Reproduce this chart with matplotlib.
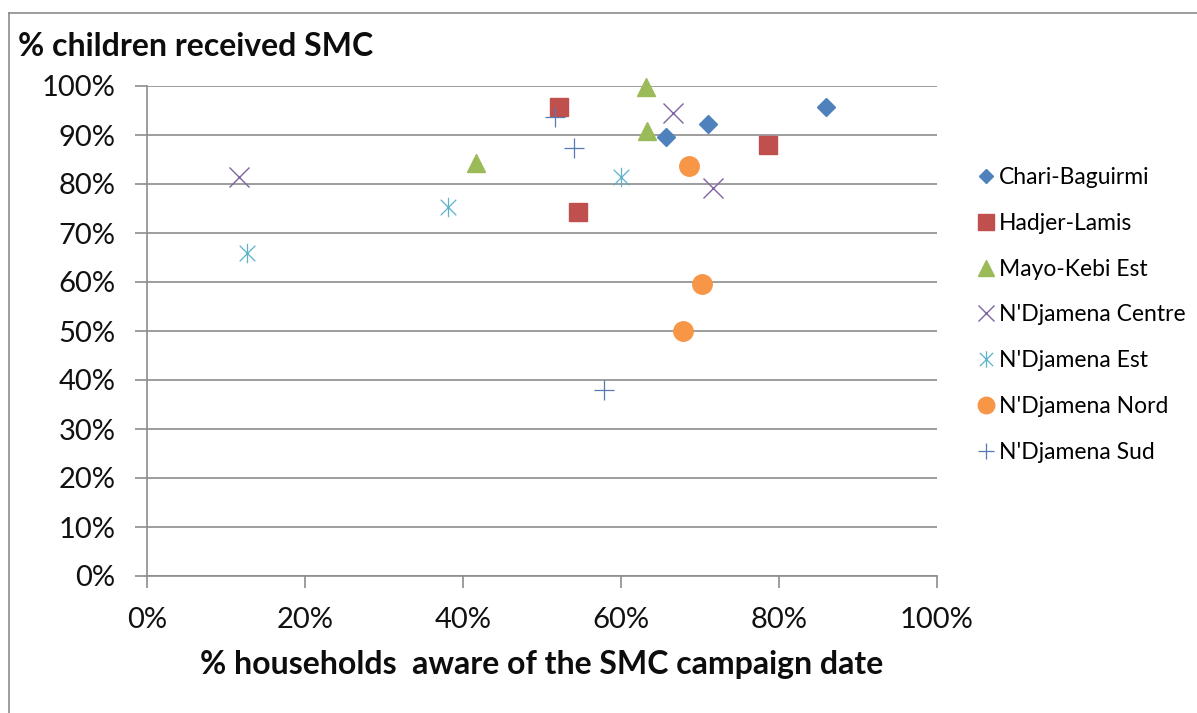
import matplotlib
matplotlib.use("Agg")
import matplotlib.pyplot as plt
from matplotlib.lines import Line2D
from matplotlib.path import Path
from matplotlib.ticker import MultipleLocator, PercentFormatter

plt.rcParams['font.family'] = ['Lato', 'DejaVu Sans']

# % households aware of the SMC campaign date (x) vs % children received SMC (y)
districts = ["Chari-Baguirmi", "Hadjer-Lamis", "Mayo-Kebi Est", "N'Djamena Centre",
             "N'Djamena Est", "N'Djamena Nord", "N'Djamena Sud"]

chari_x = [65.7, 71.0, 85.9]
chari_y = [89.5, 92.2, 95.7]
hadjer_x = [52.2, 78.6, 54.5]
hadjer_y = [95.7, 88.0, 74.2]
mayo_x = [63.2, 63.3, 41.7]
mayo_y = [99.8, 90.9, 84.3]
centre_x = [11.6, 66.6, 71.7]
centre_y = [81.5, 94.4, 79.2]
est_x = [12.7, 38.1, 60.0]
est_y = [65.9, 75.4, 81.5]
nord_x = [68.6, 70.2, 67.8]
nord_y = [83.7, 59.5, 50.0]
sud_x = [51.6, 54.0, 57.9]
sud_y = [93.7, 87.4, 38.0]

# asterisk marker: vertical stroke plus a diagonal cross
asterisk = Path(
    [(0, -1), (0, 1), (-0.8, -0.8), (0.8, 0.8), (-0.8, 0.8), (0.8, -0.8)],
    [Path.MOVETO, Path.LINETO, Path.MOVETO, Path.LINETO, Path.MOVETO, Path.LINETO],
)

styles = [
    dict(marker='D', color='#4F81BD', ms=8.8, mec='#4F81BD'),
    dict(marker='s', color='#C0504D', ms=13.5, mec='#C0504D'),
    dict(marker='^', color='#9BBB59', ms=13.5, mec='#9BBB59'),
    dict(marker='x', color='#8064A2', ms=14, mew=1.0),
    dict(marker=asterisk, color='#5BB3CC', ms=14, mew=0.9),
    dict(marker='o', color='#F79646', ms=14, mec='#F79646'),
    dict(marker='+', color='#5679B4', ms=14, mew=0.9),
]
series = [(chari_x, chari_y), (hadjer_x, hadjer_y), (mayo_x, mayo_y),
          (centre_x, centre_y), (est_x, est_y), (nord_x, nord_y), (sud_x, sud_y)]

W, H = 1197, 713
fig = plt.figure(figsize=(W / 100, H / 100), dpi=100)
fig.patch.set_facecolor('white')
ax = fig.add_axes([147 / W, (H - 576) / H, 790 / W, 490 / H])

handles = []
for name, (xs, ys), st in zip(districts, series, styles):
    h, = ax.plot(xs, ys, linestyle='none', label=name, zorder=3, clip_on=False, **st)
    handles.append(h)

ax.set_xlim(0, 100)
ax.set_ylim(0, 100)
ax.xaxis.set_major_locator(MultipleLocator(20))
ax.yaxis.set_major_locator(MultipleLocator(10))
ax.xaxis.set_major_formatter(PercentFormatter(decimals=0))
ax.yaxis.set_major_formatter(PercentFormatter(decimals=0))

grid_c = '#8C8C8C'
ax.yaxis.grid(True, color=grid_c, linewidth=1.2, zorder=0)
ax.xaxis.grid(False)
for side in ('top', 'right'):
    ax.spines[side].set_visible(False)
for side in ('left', 'bottom'):
    ax.spines[side].set_color(grid_c)
    ax.spines[side].set_linewidth(1.2)
ax.tick_params(axis='both', direction='out', length=8.6, width=1.2, color=grid_c,
               labelsize=21, labelcolor='#111111')
ax.tick_params(axis='y', pad=14)
ax.tick_params(axis='x', pad=14)
ax.set_axisbelow(True)

ax.set_xlabel('% households  aware of the SMC campaign date', fontsize=23,
              fontweight='bold', color='#0d0d0d', labelpad=12)
fig.text(18 / W, 1 - 46 / H, '% children received SMC', fontsize=23,
         fontweight='bold', color='#0d0d0d', ha='left', va='center')

fig.legend(handles=handles, loc='upper left', bbox_to_anchor=(968 / W, 1 - 158 / H),
           frameon=False, fontsize=16.5, handlelength=0.8, handletextpad=0.15,
           labelspacing=1.08, borderaxespad=0, markerscale=0.85)

# chart frame
fig.add_artist(Line2D([9 / W, 1.0], [1 - 13 / H, 1 - 13 / H], color='#8C8C8C',
                      linewidth=1.2, transform=fig.transFigure))
fig.add_artist(Line2D([9 / W, 9 / W], [1 - 13 / H, 0.0], color='#8C8C8C',
                      linewidth=1.2, transform=fig.transFigure))

fig.savefig('out.png', dpi=100)
